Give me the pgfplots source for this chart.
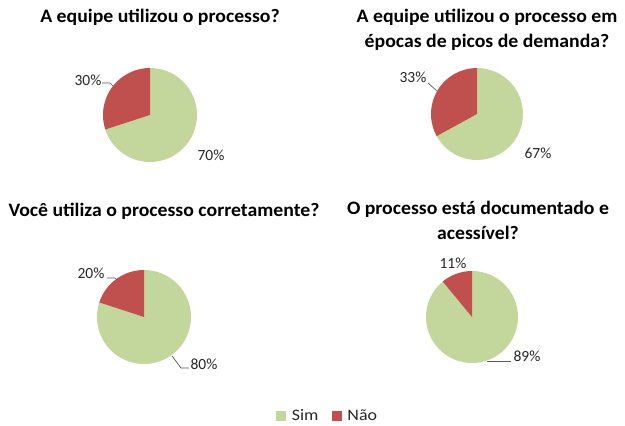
\documentclass[border=0pt]{standalone}
\usepackage{pgfplots}
\pgfplotsset{compat=1.18}
\usepackage{graphicx}
\usepackage{fontspec}
\setmainfont{Carlito}
\definecolor{sim}{HTML}{C3D69B}
\definecolor{nao}{HTML}{C0504D}
\definecolor{lbl}{HTML}{262626}
\newcommand{\ttl}[1]{\scalebox{1.04}[1]{#1}}
\newcommand{\legtxt}[1]{\scalebox{1.12}[1]{#1}}
\begin{document}
\begin{tikzpicture}
\path (0,0) rectangle (625pt,426pt);
\begin{axis}[
  at={(0,0)}, anchor=south west,
  width=625pt, height=426pt, scale only axis,
  xmin=0, xmax=625, ymin=0, ymax=426,
  hide axis, clip=false,
  legend style={at={(axis cs:327.5,10)}, anchor=center, draw=none, fill=none,
    legend columns=2, font=\fontsize{16}{18}\selectfont, inner sep=0pt,
    nodes={inner sep=2pt, text=lbl},
    /tikz/every odd column/.append style={column sep=4pt},
    /tikz/every even column/.append style={column sep=11pt}},
  legend image code/.code={\fill[#1] (0pt,-4.7pt) rectangle (9.5pt,4.7pt);},
]
% ---- Pie 1: 70 / 30 ----
\addplot[fill=sim, draw=none, forget plot] coordinates {(150,311)} -- ++(90:47pt) arc[start angle=90, delta angle={-3.6*70}, radius=47pt] -- cycle;
\addplot[fill=nao, draw=none, forget plot] coordinates {(150,311)} -- ++({90-3.6*70}:47pt) arc[start angle={90-3.6*70}, delta angle={-3.6*30}, radius=47pt] -- cycle;
% ---- Pie 2: 67 / 33 ----
\addplot[fill=sim, draw=none, forget plot] coordinates {(477,312)} -- ++(90:46pt) arc[start angle=90, delta angle={-3.6*67}, radius=46pt] -- cycle;
\addplot[fill=nao, draw=none, forget plot] coordinates {(477,312)} -- ++({90-3.6*67}:46pt) arc[start angle={90-3.6*67}, delta angle={-3.6*33}, radius=46pt] -- cycle;
% ---- Pie 3: 80 / 20 ----
\addplot[fill=sim, draw=none, forget plot] coordinates {(144,109)} -- ++(90:47pt) arc[start angle=90, delta angle={-3.6*80}, radius=47pt] -- cycle;
\addplot[fill=nao, draw=none, forget plot] coordinates {(144,109)} -- ++({90-3.6*80}:47pt) arc[start angle={90-3.6*80}, delta angle={-3.6*20}, radius=47pt] -- cycle;
% ---- Pie 4: 89 / 11 ----
\addplot[fill=sim, draw=none, forget plot] coordinates {(472,109)} -- ++(90:46pt) arc[start angle=90, delta angle={-3.6*89}, radius=46pt] -- cycle;
\addplot[fill=nao, draw=none, forget plot] coordinates {(472,109)} -- ++({90-3.6*89}:46pt) arc[start angle={90-3.6*89}, delta angle={-3.6*11}, radius=46pt] -- cycle;
% ---- leader lines ----
\addplot[black!65, line width=0.7pt, forget plot] coordinates {(102,343) (110,343) (113,340)};
\addplot[black!65, line width=0.7pt, forget plot] coordinates {(428,343) (437,335)};
\addplot[black!65, line width=0.7pt, forget plot] coordinates {(107,148) (115,148) (117,146)};
\addplot[black!65, line width=0.7pt, forget plot] coordinates {(172,70) (181,58) (189,58)};
\addplot[black!65, line width=0.7pt, forget plot] coordinates {(487,65) (511,65)};
% ---- titles ----
\node[font=\bfseries\fontsize{19}{25}\selectfont, align=center] at (axis cs:160,409) {\ttl{A equipe utilizou o processo?}};
\node[font=\bfseries\fontsize{19}{25}\selectfont, align=center] at (axis cs:487,396.5) {\ttl{A equipe utilizou o processo em}\\\ttl{épocas de picos de demanda?}};
\node[font=\bfseries\fontsize{19}{25}\selectfont, align=center] at (axis cs:164,215) {\ttl{Você utiliza o processo corretamente?}};
\node[font=\bfseries\fontsize{19}{25}\selectfont, align=center] at (axis cs:478,206) {\ttl{O processo está documentado e}\\\ttl{acessível?}};
% ---- data labels ----
\node[font=\fontsize{15.5}{18}\selectfont, text=lbl] at (axis cs:88,346) {30\%};
\node[font=\fontsize{15.5}{18}\selectfont, text=lbl] at (axis cs:211,271) {70\%};
\node[font=\fontsize{15.5}{18}\selectfont, text=lbl] at (axis cs:413,349) {33\%};
\node[font=\fontsize{15.5}{18}\selectfont, text=lbl] at (axis cs:538,273) {67\%};
\node[font=\fontsize{15.5}{18}\selectfont, text=lbl] at (axis cs:91,153) {20\%};
\node[font=\fontsize{15.5}{18}\selectfont, text=lbl] at (axis cs:204,62) {80\%};
\node[font=\fontsize{15.5}{18}\selectfont, text=lbl] at (axis cs:453,163) {11\%};
\node[font=\fontsize{15.5}{18}\selectfont, text=lbl] at (axis cs:527,70) {89\%};
% ---- legend ----
\addlegendimage{sim}
\addlegendimage{nao}
\legend{\legtxt{Sim}, \legtxt{Não}}
\end{axis}
\end{tikzpicture}
\end{document}
